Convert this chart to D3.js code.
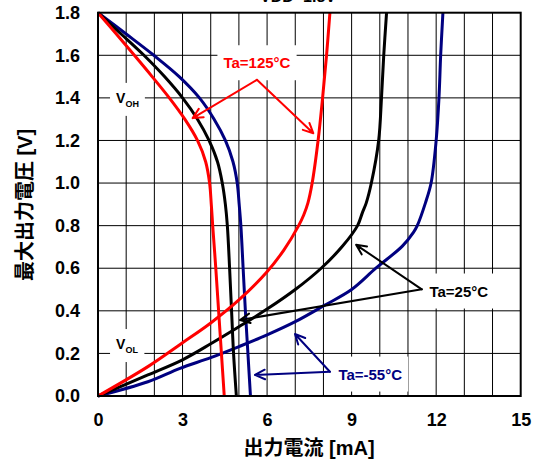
<!DOCTYPE html>
<html><head><meta charset="utf-8">
<script src="https://cdn.jsdelivr.net/npm/d3@7"></script>
<style>
body{margin:0;background:#fff;}
svg text{font-family:"Liberation Sans",Arial,"Noto Sans CJK JP",sans-serif;font-weight:bold;}
</style></head>
<body><svg id="c" width="536" height="464"></svg>
<script>
// ---- data ----
const xTicks = [0, 3, 6, 9, 12, 15];
const yTicks = [0.0, 0.2, 0.4, 0.6, 0.8, 1.0, 1.2, 1.4, 1.6, 1.8];
const seriesNames = ["Ta=125°C", "Ta=25°C", "Ta=-55°C"];
const seriesColors = ["#ff0000", "#000000", "#000080"];

// VOH curves: output voltage levels and the current at each level
const vohV = [1.8, 1.7, 1.6, 1.5, 1.4, 1.3, 1.2, 1.1, 1.0, 0.9, 0.8, 0.6, 0.4, 0.2, 0.0];
const vohI125 = [0, 0.65, 1.29, 1.92, 2.53, 3.08, 3.53, 3.82, 3.96, 4.02, 4.07, 4.18, 4.28, 4.38, 4.48];
const vohI25  = [0, 0.82, 1.63, 2.36, 3.0, 3.53, 3.94, 4.24, 4.41, 4.52, 4.59, 4.67, 4.74, 4.81, 4.91];
const vohIm55 = [0, 1.0, 1.98, 2.88, 3.6, 4.12, 4.52, 4.79, 4.94, 5.01, 5.07, 5.15, 5.23, 5.32, 5.41];

// VOL curves
const volI125 = [0, 1.77, 3.0, 4.0, 5.0, 6.0, 6.6, 7.12, 7.3, 7.45, 7.6, 7.81, 7.97, 8.11, 8.23];
const volV125 = [0, 0.138, 0.25, 0.343, 0.451, 0.584, 0.686, 0.8, 0.85, 0.907, 1.0, 1.2, 1.4, 1.6, 1.8];
const volI25  = [0, 1.77, 3.0, 4.0, 5.0, 6.0, 7.0, 7.92, 8.68, 9.21, 9.38, 9.52, 9.7, 9.96, 10.06, 10.14, 10.24];
const volV25  = [0, 0.099, 0.17, 0.245, 0.325, 0.408, 0.5, 0.6, 0.704, 0.8, 0.86, 0.907, 1.0, 1.2, 1.4, 1.6, 1.8];
const volIm55 = [0, 1.77, 2.91, 4.0, 5.0, 6.0, 7.0, 8.0, 9.0, 9.86, 10.8, 11.2, 11.33, 11.62, 11.82, 12.0, 12.1, 12.16, 12.24];
const volVm55 = [0, 0.067, 0.13, 0.18, 0.232, 0.287, 0.349, 0.423, 0.5, 0.6, 0.704, 0.77, 0.8, 0.907, 1.0, 1.2, 1.4, 1.6, 1.8];

// annotations (data units): label anchor, arrow apex, arrow targets
const annLabelPos = [[5.64, 1.565], [11.76, 0.493], [8.53, 0.103]];
const annApex = [[5.64, 1.485], [11.49, 0.501], [8.23, 0.114]];
const annTargets = [
  [[3.36, 1.305], [7.64, 1.234]],
  [[9.16, 0.71], [5.04, 0.357]],
  [[6.99, 0.291], [5.57, 0.099]]
];
const vLabels = [["V", "OH", 0.64, 1.4], ["V", "OL", 0.64, 0.244]];

// ---- drawing ----
const svg = d3.select("#c");
const x = d3.scaleLinear().domain([0, 15]).range([98, 520.7]);
const y = d3.scaleLinear().domain([0, 1.8]).range([396, 12.7]);

// top (cut off) condition text
svg.append("text").attr("x", 336).attr("y", 2).attr("text-anchor", "end")
  .attr("font-size", 16).text("VDD=1.8V");

// grid
const g = svg.append("g");
g.selectAll(".vg").data(d3.range(1, 15)).join("line")
  .attr("x1", d => x(d)).attr("x2", d => x(d)).attr("y1", y(0)).attr("y2", y(1.8))
  .attr("stroke", "#000").attr("stroke-width", 1);
g.selectAll(".hg").data(d3.range(1, 9).map(d => d * 0.2)).join("line")
  .attr("x1", x(0)).attr("x2", x(15)).attr("y1", d => y(d)).attr("y2", d => y(d))
  .attr("stroke", "#000").attr("stroke-width", 1);

// axes labels via d3 axes (tick text only)
const xAxis = svg.append("g").attr("transform", `translate(0,${y(0)})`)
  .call(d3.axisBottom(x).tickValues(xTicks).tickSize(0).tickPadding(17).tickFormat(d3.format("d")));
xAxis.select(".domain").remove();
xAxis.selectAll("text").attr("font-size", 18).attr("fill", "#000")
  .style("font-family", '"Liberation Sans",Arial,sans-serif').style("font-weight", "bold");
const yAxis = svg.append("g").attr("transform", `translate(${x(0)},0)`)
  .call(d3.axisLeft(y).tickValues(yTicks).tickSize(0).tickPadding(18).tickFormat(d3.format(".1f")));
yAxis.select(".domain").remove();
yAxis.selectAll("text").attr("font-size", 18).attr("fill", "#000")
  .style("font-family", '"Liberation Sans",Arial,sans-serif').style("font-weight", "bold");

// axis titles
svg.append("text").attr("x", 309).attr("y", 455).attr("text-anchor", "middle")
  .attr("font-size", 20).text("出力電流 [mA]");
svg.append("text").attr("transform", `translate(32,205) rotate(-90)`).attr("text-anchor", "middle")
  .attr("font-size", 20).text("最大出力電圧 [V]");

// label boxes + labels (white background)
const labelLayer = svg.append("g");
function boxedText(node, padX, padY) {
  const b = node.getBBox();
  labelLayer.insert("rect", ":first-child")
    .attr("x", b.x - padX).attr("y", b.y - padY)
    .attr("width", b.width + 2 * padX).attr("height", b.height + 2 * padY)
    .attr("fill", "#fff");
}
const curveLayer = svg.append("g");
const textLayer = svg.append("g");

vLabels.forEach(([main, sub, i, v]) => {
  const t = textLayer.append("text").attr("x", x(i)).attr("y", y(v) + 5).attr("font-size", 14);
  t.append("tspan").text(main);
  t.append("tspan").attr("font-size", 9).attr("dy", 4).text(sub);
  boxedText(t.node(), 6, 7);
});

seriesNames.forEach((name, k) => {
  const [li, lv] = annLabelPos[k];
  const t = textLayer.append("text").attr("x", x(li)).attr("y", y(lv) + 5.5)
    .attr("text-anchor", k === 0 ? "middle" : "start")
    .attr("font-size", 15).attr("fill", seriesColors[k]).text(name);
  boxedText(t.node(), 6, 9);
});

// frame border
svg.append("rect").attr("x", x(0)).attr("y", y(1.8)).attr("width", x(15) - x(0)).attr("height", y(0) - y(1.8))
  .attr("fill", "none").attr("stroke", "#000").attr("stroke-width", 2);

// curves
const line = d3.line().x(d => x(d[0])).y(d => y(d[1])).curve(d3.curveCatmullRom.alpha(0.5));
const voh = [vohI125, vohI25, vohIm55].map(arr => arr.map((c, i) => [c, vohV[i]]));
const vol = [[volI125, volV125], [volI25, volV25], [volIm55, volVm55]]
  .map(([is, vs]) => is.map((c, i) => [c, vs[i]]));
[2, 1, 0].forEach(k => {
  curveLayer.append("path").attr("d", line(voh[k])).attr("fill", "none")
    .attr("stroke", seriesColors[k]).attr("stroke-width", 3).attr("stroke-linejoin", "round");
  curveLayer.append("path").attr("d", line(vol[k])).attr("fill", "none")
    .attr("stroke", seriesColors[k]).attr("stroke-width", 3).attr("stroke-linejoin", "round");
});

// arrows
const arrowLayer = svg.append("g");
seriesNames.forEach((name, k) => {
  const [ai, av] = annApex[k];
  const ax = x(ai), ay = y(av);
  annTargets[k].forEach(([ti, tv]) => {
    const tx = x(ti), ty = y(tv);
    const ang = Math.atan2(ty - ay, tx - ax);
    const L = 11, w = 0.45;
    const p1 = [tx - L * Math.cos(ang - w), ty - L * Math.sin(ang - w)];
    const p2 = [tx - L * Math.cos(ang + w), ty - L * Math.sin(ang + w)];
    arrowLayer.append("path")
      .attr("d", `M${ax},${ay}L${tx},${ty}M${p1[0]},${p1[1]}L${tx},${ty}L${p2[0]},${p2[1]}`)
      .attr("fill", "none").attr("stroke", seriesColors[k]).attr("stroke-width", 2)
      .attr("stroke-linecap", "round").attr("stroke-linejoin", "round");
  });
});
textLayer.raise();
</script></body></html>
